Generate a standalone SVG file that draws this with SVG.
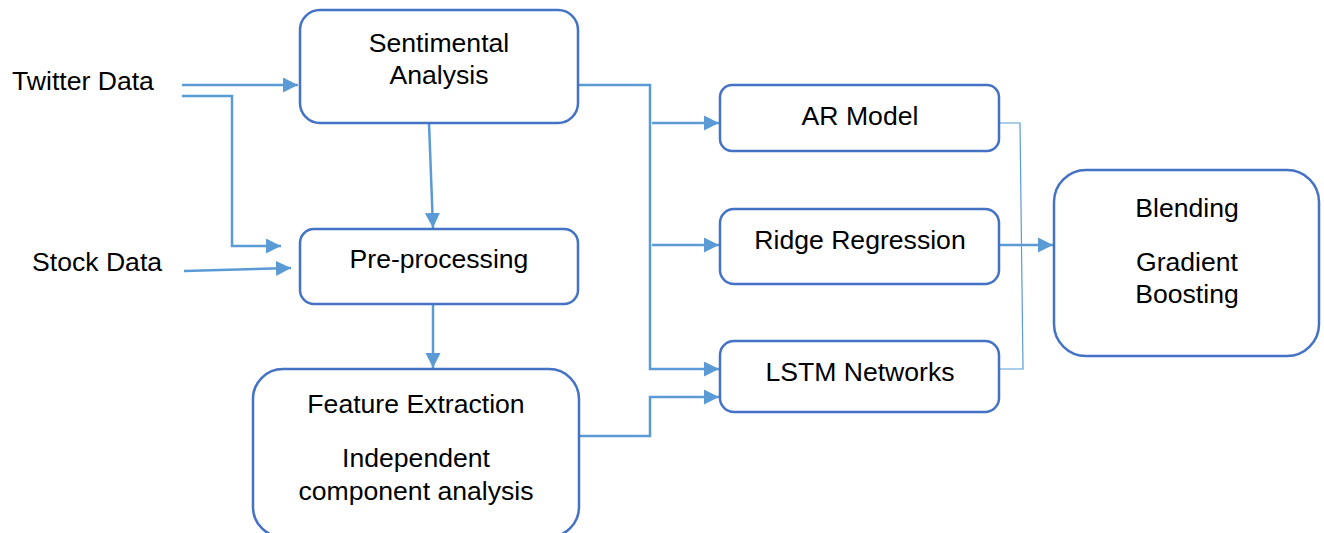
<svg xmlns="http://www.w3.org/2000/svg" width="1324" height="533" viewBox="0 0 1324 533">
<style>
.box{fill:#fff;stroke:#4472C4;stroke-width:2.5}
.lbl{font-family:"Liberation Sans",Arial,sans-serif;font-size:26.6px;fill:#000;text-anchor:middle}
.lft{font-family:"Liberation Sans",Arial,sans-serif;font-size:26.6px;fill:#000}
.c{fill:none;stroke:#5B9BD5;stroke-width:2.5}
.thin{fill:none;stroke:#5B9BD5;stroke-width:1.2}
</style>
<defs>
<marker id="ah" markerUnits="userSpaceOnUse" markerWidth="16" markerHeight="16" refX="15" refY="7.5" orient="auto">
<path d="M0,0 L15,7.5 L0,15 Z" fill="#5B9BD5"/>
</marker>
</defs>
<rect width="1324" height="533" fill="#fff"/>
<g id="connectors">
<path class="c" d="M182,85 L298,85" marker-end="url(#ah)"/>
<path class="c" d="M182,96 L232,96 L232,246 L281,246" marker-end="url(#ah)"/>
<path class="c" d="M184,271 L291,268" marker-end="url(#ah)"/>
<path class="c" d="M429,123 L433,228" marker-end="url(#ah)"/>
<path class="c" d="M433,304 L433,368" marker-end="url(#ah)"/>
<path class="c" d="M578,85 L650,85 L650,369 L719,369" marker-end="url(#ah)"/>
<path class="c" d="M652,123 L719,123" marker-end="url(#ah)"/>
<path class="c" d="M652,245 L719,245" marker-end="url(#ah)"/>
<path class="c" d="M579,436 L650,436 L650,397 L719,397" marker-end="url(#ah)"/>
<path class="thin" d="M999,123 L1020,123 L1023,369 L999,369"/>
<path class="c" d="M999,245 L1053,245" marker-end="url(#ah)"/>
</g>
<g id="twitter"><text class="lft" x="12" y="90">Twitter Data</text></g>
<g id="stock"><text class="lft" x="32" y="271">Stock Data</text></g>
<g id="sentimental">
<rect class="box" x="300" y="10" width="278" height="113" rx="20"/>
<text class="lbl" x="439" y="52">Sentimental</text>
<text class="lbl" x="439" y="84">Analysis</text>
</g>
<g id="preprocessing">
<rect class="box" x="300" y="229" width="278" height="75" rx="14"/>
<text class="lbl" x="439" y="268">Pre-processing</text>
</g>
<g id="feature">
<rect class="box" x="253" y="369" width="326" height="168" rx="30"/>
<text class="lbl" x="416" y="413">Feature Extraction</text>
<text class="lbl" x="416" y="467">Independent</text>
<text class="lbl" x="416" y="500">component analysis</text>
</g>
<g id="ar">
<rect class="box" x="720" y="85" width="279" height="66" rx="12"/>
<text class="lbl" x="860" y="125">AR Model</text>
</g>
<g id="ridge">
<rect class="box" x="720" y="209" width="279" height="75" rx="14"/>
<text class="lbl" x="860" y="249">Ridge Regression</text>
</g>
<g id="lstm">
<rect class="box" x="720" y="341" width="279" height="71" rx="14"/>
<text class="lbl" x="860" y="381">LSTM Networks</text>
</g>
<g id="blending">
<rect class="box" x="1054" y="170" width="265" height="186" rx="32"/>
<text class="lbl" x="1187" y="217">Blending</text>
<text class="lbl" x="1187" y="271">Gradient</text>
<text class="lbl" x="1187" y="303">Boosting</text>
</g>
</svg>
